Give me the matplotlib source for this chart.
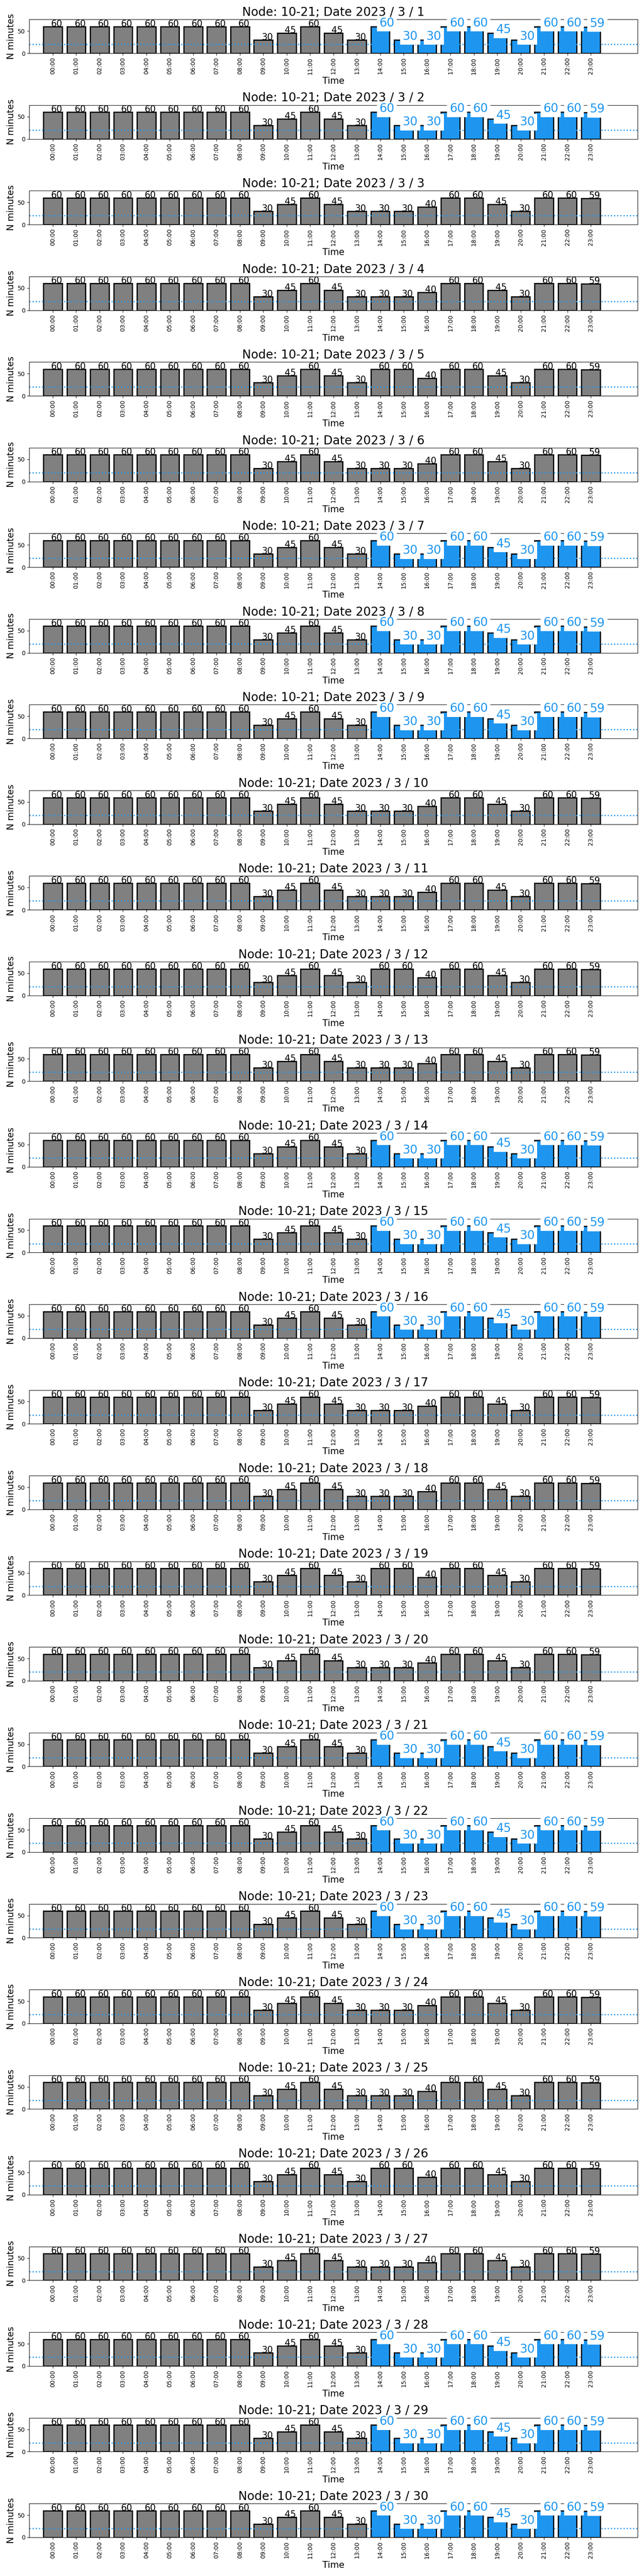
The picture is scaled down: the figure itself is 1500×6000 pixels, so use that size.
import matplotlib
matplotlib.use("Agg")
import matplotlib.pyplot as plt

node = "10-21"
year = 2023
month = 3
days = list(range(1, 31))
hours = ["00:00", "01:00", "02:00", "03:00", "04:00", "05:00", "06:00", "07:00",
         "08:00", "09:00", "10:00", "11:00", "12:00", "13:00", "14:00", "15:00",
         "16:00", "17:00", "18:00", "19:00", "20:00", "21:00", "22:00", "23:00"]

# minutes per hour, by day type
minutes_hi = [60, 60, 60, 60, 60, 60, 60, 60, 60, 30, 45, 60,
              45, 30, 60, 30, 30, 60, 60, 45, 30, 60, 60, 59]
minutes_a = [60, 60, 60, 60, 60, 60, 60, 60, 60, 30, 45, 60,
             45, 30, 30, 30, 40, 60, 60, 45, 30, 60, 60, 59]
minutes_b = [60, 60, 60, 60, 60, 60, 60, 60, 60, 30, 45, 60,
             45, 30, 60, 60, 40, 60, 60, 45, 30, 60, 60, 59]

day_values = {
    1: minutes_hi, 2: minutes_hi, 3: minutes_a, 4: minutes_a, 5: minutes_b,
    6: minutes_a, 7: minutes_hi, 8: minutes_hi, 9: minutes_hi, 10: minutes_a,
    11: minutes_a, 12: minutes_b, 13: minutes_a, 14: minutes_hi, 15: minutes_hi,
    16: minutes_hi, 17: minutes_a, 18: minutes_a, 19: minutes_b, 20: minutes_a,
    21: minutes_hi, 22: minutes_hi, 23: minutes_hi, 24: minutes_a, 25: minutes_a,
    26: minutes_b, 27: minutes_a, 28: minutes_hi, 29: minutes_hi, 30: minutes_hi,
}
highlight_days = [1, 2, 7, 8, 9, 14, 15, 16, 21, 22, 23, 28, 29, 30]
highlight_from_hour = 14
threshold = 20

BLUE = "#1E96F0"
GREY = "#808080"

fig, axes = plt.subplots(30, 1, figsize=(15, 60), dpi=100)
fig.subplots_adjust(left=0.0456, right=0.99, top=0.99245, bottom=0.015, hspace=1.535)

for ax, d in zip(axes, days):
    vals = day_values[d]
    hl = [(d in highlight_days) and (h >= highlight_from_hour) for h in range(len(vals))]
    colors = [BLUE if f else GREY for f in hl]
    ax.bar(range(len(vals)), vals, width=0.8, color=colors, edgecolor="black", linewidth=2)
    ax.axhline(threshold, color=BLUE, linestyle=":", linewidth=2)
    for i, (v, f) in enumerate(zip(vals, hl)):
        if f:
            ax.text(i - 0.04, v, str(v), fontsize=20, color=BLUE,
                    bbox=dict(facecolor="white", edgecolor="none"))
        else:
            ax.text(i - 0.08, v, str(v), fontsize=15, color="black")
    ax.set_xlim(-1, 25)
    ax.set_ylim(0, 76)
    ax.set_xticks(range(len(hours)))
    ax.set_xticklabels(hours, rotation=90, fontsize=10)
    ax.set_yticks([0, 50])
    ax.tick_params(axis="y", labelsize=10)
    ax.set_title(f"Node: {node}; Date {year} / {month} / {d}", fontsize=20)
    ax.set_xlabel("Time", fontsize=15)
    ax.set_ylabel("N minutes", fontsize=15)

fig.savefig("out.png", dpi=100)
